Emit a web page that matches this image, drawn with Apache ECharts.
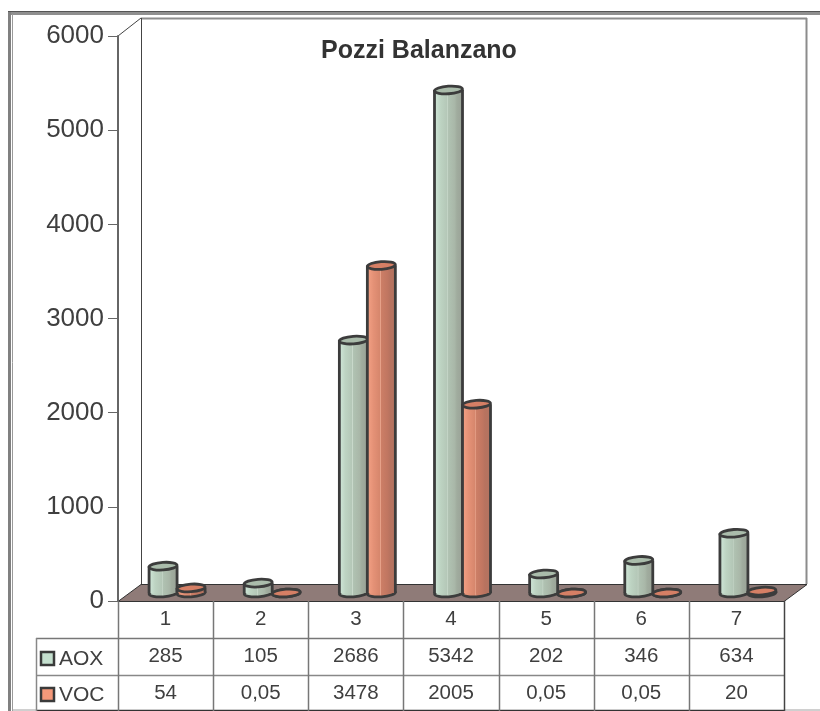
<!DOCTYPE html>
<html>
<head>
<meta charset="utf-8">
<title>Pozzi Balanzano</title>
<script src="https://cdn.jsdelivr.net/npm/echarts@6/dist/echarts.min.js"></script>
<style>
html, body { margin: 0; padding: 0; background: #fff; }
#chart { width: 820px; height: 711px; }
</style>
</head>
<body>
<div id="chart"></div>
<script>
var categories = ['1', '2', '3', '4', '5', '6', '7'];
var aoxValues = [285, 105, 2686, 5342, 202, 346, 634];
var vocValues = [54, 0.05, 3478, 2005, 0.05, 0.05, 20];
var yTicks = [0, 1000, 2000, 3000, 4000, 5000, 6000];
var fontName = '"Liberation Sans", Arial, sans-serif';
var textColor = '#3f3f3f';

// the plot is 3D-looking: columns stand halfway into the floor
var depthX = 11.5, depthY = -8, barOffset = 14, barWidth = 28;

var chart = echarts.init(document.getElementById('chart'), null, { renderer: 'canvas' });

function toPairs(values) {
    var out = [];
    for (var i = 0; i < values.length; i++) {
        out.push([i, values[i]]);
    }
    return out;
}

function valueText(v) {
    return String(v).replace('.', ',');
}

function hLine(x1, x2, y, color, width) {
    return { type: 'line', shape: { x1: x1, y1: y, x2: x2, y2: y }, style: { stroke: color, lineWidth: width || 1 } };
}

function vLine(x, y1, y2, color, width) {
    return { type: 'line', shape: { x1: x, y1: y1, x2: x, y2: y2 }, style: { stroke: color, lineWidth: width || 1 } };
}

function legendKey(y, color, label) {
    return [
        { type: 'rect', shape: { x: 41, y: y, width: 13, height: 13 }, style: { fill: color, stroke: '#3a3a3a', lineWidth: 2.5 } },
        { type: 'text', style: { x: 59, y: y + 7, text: label, fill: textColor, font: '21px ' + fontName, textVerticalAlign: 'middle' } }
    ];
}

/**
 * frame, back wall, floor and data table lines
 */
function buildChrome() {
    var items = [
        // outer frame
        hLine(8, 820, 13.5, '#8f8f8f', 3),
        hLine(8, 820, 11.5, '#555', 1),
        vLine(9.5, 12, 711, '#808080', 3),
        vLine(12.5, 14, 711, '#9a9a9a', 1),
        hLine(12, 36, 710, '#a0a0a0', 1),
        hLine(784, 820, 710, '#a0a0a0', 1),
        // back wall
        hLine(141, 807, 18.5, '#8c8c8c', 2),
        vLine(141.5, 18, 584, '#444', 1),
        vLine(806.5, 18, 584, '#8c8c8c', 2),
        { type: 'line', shape: { x1: 118, y1: 36, x2: 141, y2: 18 }, style: { stroke: '#444', lineWidth: 1 } },
        // floor
        {
            type: 'polygon',
            shape: { points: [[118, 601.5], [141, 584.5], [807, 584.5], [784, 601.5]] },
            style: { fill: '#8f7b78', stroke: '#333', lineWidth: 1 }
        },
        // table
        hLine(36, 784, 638.5, '#777', 1.5),
        hLine(36, 784, 675.5, '#888', 1.5),
        hLine(36, 784, 710.5, '#333', 1.5),
        vLine(36.5, 638, 711, '#888', 1.5)
    ];
    for (var i = 0; i <= categories.length; i++) {
        var x = Math.round(118 + i * 95.14) + 0.5;
        items.push(vLine(x, 601, 711, i === categories.length ? '#444' : '#777', 1.5));
    }
    return items.concat(legendKey(652, '#c5e0cf', 'AOX'), legendKey(688, '#f5997a', 'VOC'));
}

/**
 * draws one cylinder from the value axis
 */
function cylinder(offset, body, topFill) {
    return function (params, api) {
        var top = api.coord([api.value(0), api.value(1)]);
        var base = api.coord([api.value(0), 0]);
        var cx = top[0] + depthX + offset;
        var topY = top[1] + depthY;
        var baseY = base[1] + depthY;
        var rx = barWidth / 2;
        var ry = 3.8;
        var tilt = 0.07;
        var stroke = '#3c3c3c';
        return {
            type: 'group',
            children: [
                {
                    type: 'ellipse',
                    shape: { cx: cx, cy: baseY, rx: rx, ry: ry },
                    rotation: tilt, originX: cx, originY: baseY,
                    style: { fill: body, stroke: stroke, lineWidth: 2.8 }
                },
                {
                    type: 'rect',
                    shape: { x: cx - rx, y: topY, width: barWidth, height: baseY - topY },
                    style: { fill: body }
                },
                vLineAt(cx - rx, topY, baseY, stroke),
                vLineAt(cx + rx, topY, baseY, stroke),
                {
                    type: 'ellipse',
                    shape: { cx: cx, cy: topY, rx: rx, ry: ry },
                    rotation: tilt, originX: cx, originY: topY,
                    style: { fill: topFill, stroke: stroke, lineWidth: 2.8 }
                }
            ]
        };
    };
}

function vLineAt(x, y1, y2, color) {
    return { type: 'line', shape: { x1: x, y1: y1, x2: x, y2: y2 }, style: { stroke: color, lineWidth: 2.8 } };
}

function sideShade(colors) {
    var stops = [];
    for (var i = 0; i < colors.length; i++) {
        stops.push({ offset: colors[i][0], color: colors[i][1] });
    }
    return new echarts.graphic.LinearGradient(0, 0, 1, 0, stops);
}

var aoxBody = sideShade([[0, '#d0e7d9'], [0.22, '#bdd3c2'], [0.45, '#b4c7b7'], [0.47, '#c9d9cb'], [0.5, '#b0c2b2'], [0.72, '#a9b7a8'], [0.8, '#a0ac9e'], [1, '#9aa297']]);
var vocBody = sideShade([[0, '#f3a185'], [0.22, '#e49176'], [0.45, '#d6866c'], [0.47, '#e6a28a'], [0.5, '#cc7e66'], [0.72, '#c07661'], [0.8, '#b8735f'], [1, '#b27361']]);

var option = {
    backgroundColor: '#fff',
    animation: false,
    title: {
        text: 'Pozzi Balanzano',
        left: 316,
        top: 34,
        textStyle: { fontFamily: fontName, fontSize: 25, fontWeight: 'bold', color: '#333' }
    },
    // no outer bounds: the table labels reach the page bottom and must not squeeze the plot
    grid: { left: 118, right: 36, top: 36, bottom: 110, outerBoundsMode: 'none' },
    xAxis: {
        type: 'category',
        data: categories,
        axisLine: { show: false },
        axisTick: { show: false },
        splitLine: { show: false },
        axisLabel: {
            interval: 0,
            margin: 0,
            verticalAlign: 'top',
            formatter: function (value, index) {
                return '{r1|' + value + '}\n{r2|' + valueText(aoxValues[index]) + '}\n{r3|' + valueText(vocValues[index]) + '}';
            },
            rich: {
                r1: { fontFamily: fontName, fontSize: 20.5, color: textColor, height: 37, lineHeight: 37 },
                r2: { fontFamily: fontName, fontSize: 20.5, color: textColor, height: 37, lineHeight: 37 },
                r3: { fontFamily: fontName, fontSize: 20.5, color: textColor, height: 36, lineHeight: 36 }
            }
        }
    },
    yAxis: {
        type: 'value',
        min: yTicks[0],
        max: yTicks[yTicks.length - 1],
        interval: yTicks[1] - yTicks[0],
        axisLine: { show: true, lineStyle: { color: '#666', width: 2 } },
        axisTick: { show: true, length: 10, lineStyle: { color: '#666', width: 1 } },
        axisLabel: {
            fontFamily: fontName,
            fontSize: 26,
            color: textColor,
            margin: 14,
            padding: [4, 0, 0, 0],
            formatter: function (value) {
                return String(value);
            }
        },
        splitLine: { show: false }
    },
    graphic: { elements: buildChrome() },
    series: [
        {
            name: 'AOX',
            type: 'custom',
            renderItem: cylinder(-barOffset, aoxBody, '#aabcab'),
            encode: { x: 0, y: 1 },
            clip: false,
            data: toPairs(aoxValues)
        },
        {
            name: 'VOC',
            type: 'custom',
            renderItem: cylinder(barOffset, vocBody, '#d57f65'),
            encode: { x: 0, y: 1 },
            clip: false,
            data: toPairs(vocValues)
        }
    ]
};
chart.setOption(option);
</script>
</body>
</html>
